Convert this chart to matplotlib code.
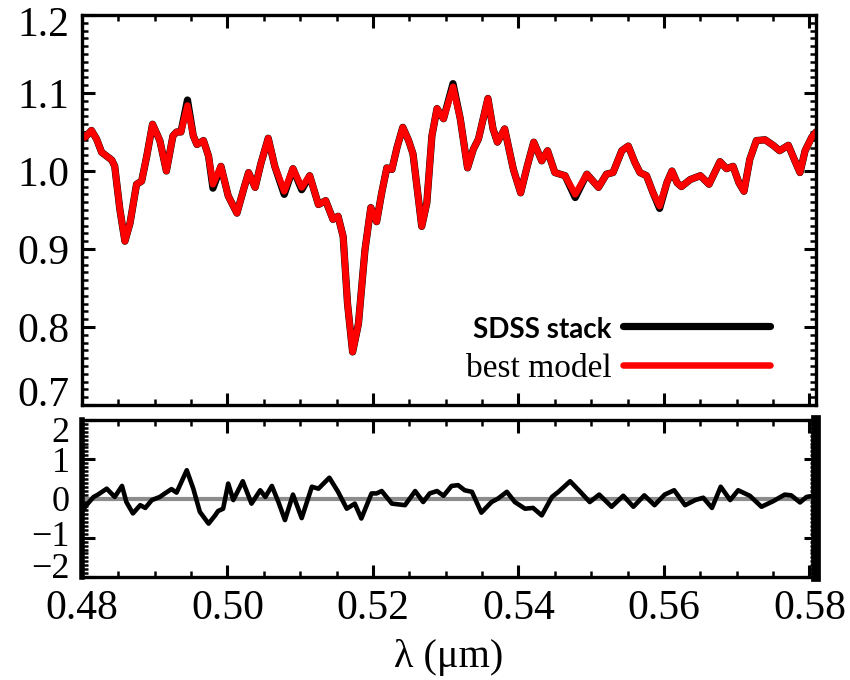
import matplotlib
matplotlib.use("Agg")
import matplotlib.pyplot as plt
import matplotlib.transforms as mtransforms
from matplotlib.ticker import MultipleLocator, FixedLocator
from matplotlib.font_manager import FontProperties

# wavelength grid of the spectrum (micron)
wave = [0.4800, 0.4804, 0.4813, 0.4820, 0.4827, 0.4841, 0.4845, 0.4852, 0.4859, 0.4866,
        0.4875, 0.4882, 0.4889, 0.4897, 0.4907, 0.4916, 0.4925, 0.4930, 0.4936, 0.4945,
        0.4953, 0.4958, 0.4967, 0.4974, 0.4980, 0.4991, 0.5001, 0.5013, 0.5022, 0.5029,
        0.5038, 0.5046, 0.5056, 0.5065, 0.5078, 0.5090, 0.5102, 0.5113, 0.5125, 0.5135,
        0.5145, 0.5152, 0.5159, 0.5165, 0.5172, 0.5180, 0.5189, 0.5197, 0.5205, 0.5212,
        0.5219, 0.5226, 0.5233, 0.5241, 0.5249, 0.5255, 0.5262, 0.5267, 0.5274, 0.5281,
        0.5288, 0.5297, 0.5310, 0.5320, 0.5330, 0.5338, 0.5345, 0.5358, 0.5365, 0.5371,
        0.5381, 0.5393, 0.5403, 0.5412, 0.5421, 0.5432, 0.5440, 0.5450, 0.5464, 0.5478,
        0.5494, 0.5510, 0.5521, 0.5530, 0.5542, 0.5551, 0.5560, 0.5567, 0.5576, 0.5585,
        0.5594, 0.5604, 0.5611, 0.5618, 0.5624, 0.5636, 0.5650, 0.5662, 0.5677, 0.5686,
        0.5695, 0.5703, 0.5710, 0.5718, 0.5727, 0.5739, 0.5750, 0.5759, 0.5771, 0.5780,
        0.5787, 0.5794, 0.5803, 0.5809]

# best model (red)
flux_model = [1.047, 1.043, 1.052, 1.041, 1.024, 1.014, 1.006, 0.951, 0.910, 0.933,
              0.983, 0.987, 1.019, 1.060, 1.039, 1.000, 1.045, 1.050, 1.050, 1.084,
              1.045, 1.034, 1.039, 1.019, 0.983, 1.006, 0.968, 0.946, 0.976, 0.998,
              0.979, 1.010, 1.042, 1.006, 0.974, 1.003, 0.979, 0.994, 0.957, 0.962,
              0.938, 0.942, 0.916, 0.830, 0.768, 0.804, 0.899, 0.953, 0.935, 0.972,
              1.004, 1.002, 1.030, 1.056, 1.039, 1.022, 0.968, 0.929, 0.959, 1.045,
              1.080, 1.067, 1.108, 1.067, 1.004, 1.028, 1.041, 1.093, 1.054, 1.037,
              1.054, 1.002, 0.972, 1.006, 1.037, 1.013, 1.026, 0.998, 0.994, 0.970,
              0.996, 0.979, 0.996, 0.998, 1.026, 1.032, 1.011, 0.998, 0.994, 0.972,
              0.955, 0.985, 1.000, 0.985, 0.980, 0.989, 0.994, 0.983, 1.012, 1.003,
              1.006, 0.985, 0.974, 1.015, 1.039, 1.040, 1.033, 1.026, 1.033, 1.013,
              0.998, 1.026, 1.043, 1.050]

# SDSS stack (black), almost the same as the model
flux_stack = [1.047, 1.043, 1.052, 1.041, 1.024, 1.014, 1.006, 0.951, 0.910, 0.933,
              0.983, 0.987, 1.019, 1.060, 1.039, 1.000, 1.045, 1.050, 1.050, 1.091,
              1.045, 1.034, 1.039, 1.019, 0.978, 1.006, 0.968, 0.946, 0.976, 0.998,
              0.979, 1.010, 1.042, 1.006, 0.970, 1.003, 0.976, 0.994, 0.957, 0.962,
              0.938, 0.942, 0.916, 0.830, 0.768, 0.804, 0.899, 0.953, 0.935, 0.972,
              1.004, 1.002, 1.030, 1.056, 1.039, 1.022, 0.968, 0.929, 0.959, 1.045,
              1.080, 1.067, 1.112, 1.067, 1.004, 1.028, 1.041, 1.093, 1.054, 1.037,
              1.054, 1.002, 0.972, 1.006, 1.037, 1.013, 1.026, 0.998, 0.994, 0.966,
              0.996, 0.979, 0.996, 0.998, 1.026, 1.032, 1.011, 0.998, 0.994, 0.972,
              0.952, 0.985, 1.000, 0.985, 0.980, 0.989, 0.994, 0.983, 1.012, 1.003,
              1.006, 0.985, 0.974, 1.015, 1.039, 1.040, 1.033, 1.026, 1.033, 1.013,
              0.998, 1.026, 1.043, 1.050]

# residuals (lower panel)
res_wave = [0.4800, 0.4806, 0.4816, 0.4822, 0.4834, 0.4845, 0.4855, 0.4861, 0.4870, 0.4880,
            0.4887, 0.4896, 0.4907, 0.4914, 0.4923, 0.4930, 0.4944, 0.4953, 0.4962, 0.4974,
            0.4983, 0.4987, 0.4994, 0.5001, 0.5008, 0.5021, 0.5033, 0.5045, 0.5052, 0.5061,
            0.5070, 0.5079, 0.5090, 0.5102, 0.5116, 0.5125, 0.5140, 0.5152, 0.5164, 0.5175,
            0.5184, 0.5198, 0.5205, 0.5212, 0.5226, 0.5244, 0.5258, 0.5269, 0.5278, 0.5288,
            0.5297, 0.5308, 0.5317, 0.5326, 0.5336, 0.5349, 0.5363, 0.5372, 0.5384, 0.5395,
            0.5409, 0.5420, 0.5432, 0.5446, 0.5455, 0.5471, 0.5485, 0.5498, 0.5511, 0.5528,
            0.5544, 0.5558, 0.5573, 0.5587, 0.5601, 0.5614, 0.5629, 0.5643, 0.5654, 0.5666,
            0.5678, 0.5691, 0.5702, 0.5718, 0.5734, 0.5750, 0.5766, 0.5775, 0.5787, 0.5796,
            0.5809]
residual = [-0.34, -0.17, 0.04, 0.10, 0.25, 0.04, 0.32, -0.09, -0.38, -0.17,
            -0.24, -0.04, 0.04, 0.13, 0.24, 0.15, 0.72, 0.25, -0.34, -0.64,
            -0.43, -0.32, -0.26, 0.38, -0.04, 0.44, -0.13, 0.21, 0.04, 0.32,
            -0.09, -0.55, 0.10, -0.50, 0.30, 0.25, 0.53, 0.17, -0.26, -0.13,
            -0.51, 0.13, 0.13, 0.19, -0.13, -0.17, 0.19, -0.09, 0.13, 0.19,
            0.07, 0.32, 0.34, 0.21, 0.17, -0.36, -0.09, 0.00, 0.17, -0.09,
            -0.26, -0.24, -0.43, 0.04, 0.17, 0.44, 0.17, -0.09, 0.10, -0.21,
            0.07, -0.21, 0.08, -0.17, 0.10, 0.21, -0.17, -0.04, 0.02, -0.24,
            0.30, -0.04, 0.21, 0.07, -0.21, -0.07, 0.10, 0.08, -0.10, 0.04,
            0.08]

xticks = [0.48, 0.50, 0.52, 0.54, 0.56, 0.58]
top_yticks = [0.7, 0.8, 0.9, 1.0, 1.1, 1.2]
bot_yticks = [-2, -1, 0, 1, 2]

plt.rcParams['font.family'] = ['Liberation Serif', 'DejaVu Serif']
plt.rcParams['axes.unicode_minus'] = True

fig = plt.figure(figsize=(8.5, 6.8), dpi=100)
ax1 = fig.add_axes([82/850, 1-405/680, 734/850, 390/680])
ax2 = fig.add_axes([82/850, 1-577/680, 734/850, 157/680])

#top panel: stack and model
ax1.plot(wave, flux_stack, color='black', lw=5.2, solid_joinstyle='round',
         solid_capstyle='round', label='SDSS stack')
ax1.plot(wave, flux_model, color='red', lw=4.7, solid_joinstyle='round',
         solid_capstyle='round', label='best model')
ax1.set_xlim(0.48, 0.5809)
ax1.set_ylim(0.7, 1.2)
ax1.yaxis.set_major_locator(FixedLocator(top_yticks))
ax1.yaxis.set_minor_locator(MultipleLocator(0.01))
ax1.set_yticklabels([f"{v:.1f}" for v in top_yticks])

leg = ax1.legend(loc='lower right', bbox_to_anchor=(0.937, 0.055), frameon=False,
                 markerfirst=False, handlelength=4.4, handletextpad=0.35,
                 labelspacing=0.3, borderpad=0, borderaxespad=0, fontsize=24)
leg.get_texts()[0].set_fontproperties(FontProperties(family='Lato', weight='bold', size=20))
leg.get_texts()[1].set_fontproperties(FontProperties(family='Liberation Serif', size=24))

#bottom panel: residuals
ax2.axhline(0, color='#8c8c8c', lw=3)
ax2.plot(res_wave, residual, color='black', lw=3.3, solid_joinstyle='round')
ax2.set_xlim(0.48, 0.5809)
ax2.set_ylim(-2, 2)
ax2.yaxis.set_major_locator(FixedLocator(bot_yticks))
ax2.yaxis.set_minor_locator(MultipleLocator(0.1))
ax2.set_yticklabels(['\u22122', '\u22121', '0', '1', '2'])
ax2.spines['right'].set_linewidth(7)
ax2.spines['left'].set_linewidth(4)

for ax in (ax1, ax2):
    ax.xaxis.set_major_locator(FixedLocator(xticks))
    ax.xaxis.set_minor_locator(MultipleLocator(0.005))
    ax.tick_params(which='both', direction='in', top=True, right=True, labelsize=30)
    ax.tick_params(which='major', length=9, width=2.2, pad=9)
    ax.tick_params(which='minor', length=4.5, width=1.8)
    for s in ['top', 'bottom']:
        ax.spines[s].set_linewidth(2.4)
ax1.spines['left'].set_linewidth(2.4)
ax1.spines['right'].set_linewidth(2.4)
ax2.tick_params(axis='y', labelsize=26)

# nudge the edge labels inside the panels (offsets in pixels, down is negative)
def nudge(ax, idx, dy_px):
    lab = ax.yaxis.get_major_ticks()[idx].label1
    off = mtransforms.ScaledTranslation(0, dy_px / 100, fig.dpi_scale_trans)
    lab.set_transform(lab.get_transform() + off)

nudge(ax1, 0, 14)
nudge(ax1, -1, -6)
nudge(ax2, 0, 11)
nudge(ax2, 1, 4)
nudge(ax2, -1, -9)

ax1.tick_params(axis='x', labelbottom=False)
ax2.set_xticklabels([f"{v:.2f}" for v in xticks])
ax2.set_xlabel('λ (μm)', fontsize=29, labelpad=8)

plt.savefig('out.png', dpi=100)
